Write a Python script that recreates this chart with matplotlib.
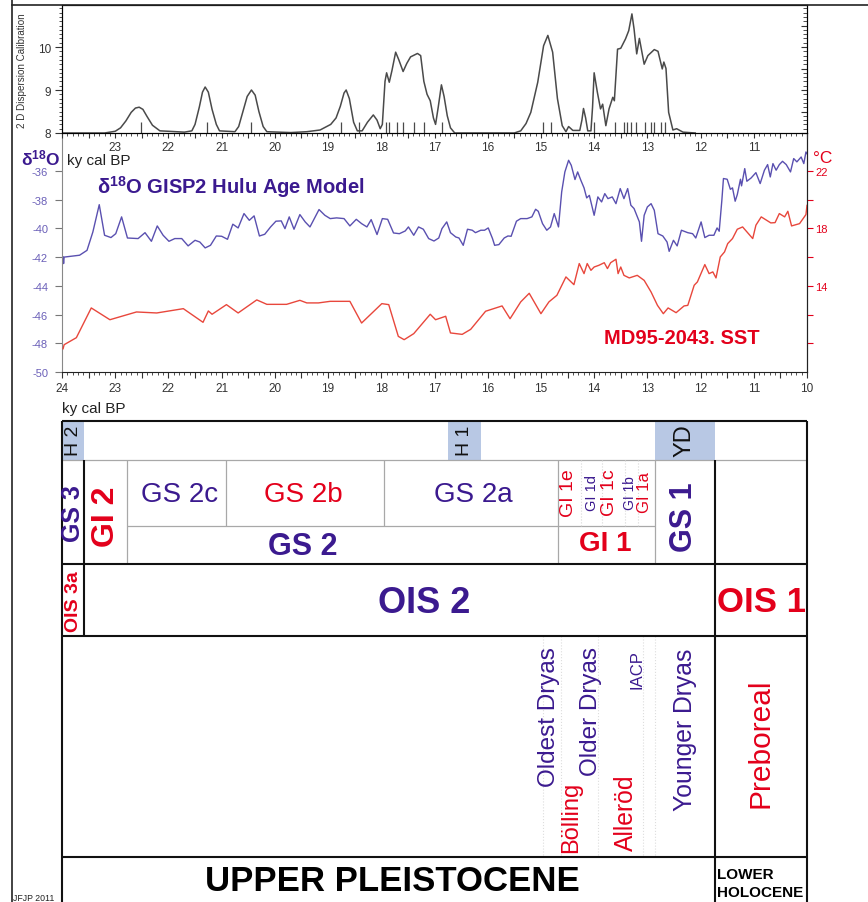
import numpy as np
import matplotlib.pyplot as plt
from matplotlib.lines import Line2D
from matplotlib.patches import Rectangle
from matplotlib.ticker import MultipleLocator, FixedLocator, FuncFormatter

plt.rcParams['font.family'] = ['Liberation Sans', 'DejaVu Sans']
plt.rcParams['mathtext.fontset'] = 'custom'
plt.rcParams['mathtext.rm'] = 'Liberation Sans'
plt.rcParams['mathtext.bf'] = 'Liberation Sans:bold'
plt.rcParams['mathtext.default'] = 'bf'
plt.rcParams['axes.unicode_minus'] = False

# --- calibration curve (top panel) ---
cal_age = [24.0, 23.2, 23.0, 22.9, 22.8, 22.7, 22.62, 22.55, 22.48, 22.4, 22.3, 22.16, 22.0,
           21.7, 21.56, 21.5, 21.42, 21.36, 21.31, 21.25, 21.18, 21.1, 21.04, 20.75, 20.68,
           20.6, 20.52, 20.44, 20.37, 20.3, 20.22, 20.15, 19.7, 19.4, 19.15, 18.95, 18.85,
           18.77, 18.7, 18.66, 18.6, 18.52, 18.45, 18.36, 18.26, 18.15, 18.08, 18.02, 17.98,
           17.93, 17.9, 17.85, 17.8, 17.73, 17.67, 17.59, 17.52, 17.45, 17.32, 17.26, 17.2,
           17.14, 17.08, 17.02, 16.98, 16.93, 16.87, 16.82, 16.76, 16.7, 16.62, 15.5, 15.38,
           15.28, 15.19, 15.06, 14.95, 14.87, 14.78, 14.69, 14.6, 14.53, 14.48, 14.4, 14.27,
           14.23, 14.2, 14.16, 14.12, 14.06, 14.03, 14.0, 13.94, 13.88, 13.84, 13.78, 13.72,
           13.65, 13.62, 13.56, 13.5, 13.41, 13.35, 13.29, 13.25, 13.2, 13.15, 13.06, 12.99,
           12.87, 12.8, 12.72, 12.69, 12.65, 12.6, 12.52, 12.45, 12.33, 12.1]
cal_val = [8.0, 8.0, 8.04, 8.12, 8.28, 8.48, 8.58, 8.6, 8.55, 8.38, 8.18, 8.05, 8.04,
           8.02, 8.05, 8.2, 8.6, 8.95, 9.07, 8.95, 8.55, 8.2, 8.05, 8.03, 8.15,
           8.5, 8.85, 9.0, 8.88, 8.5, 8.15, 8.03, 8.01, 8.03, 8.07, 8.2, 8.35,
           8.62, 8.93, 9.0, 8.8, 8.25, 8.05, 8.05, 8.25, 8.42, 8.3, 8.1, 8.2,
           9.2, 9.4, 9.18, 9.45, 9.88, 9.7, 9.43, 9.62, 9.77, 9.85, 9.8, 9.2,
           8.9, 8.75, 8.35, 8.2, 8.6, 9.12, 8.85, 8.4, 8.12, 8.0, 8.0, 8.05,
           8.22, 8.48, 9.18, 10.03, 10.27, 9.88, 8.8, 8.17, 8.03, 8.15, 8.06, 8.06,
           8.3, 8.57, 8.35, 8.05, 8.05, 8.6, 9.4, 8.95, 8.56, 8.67, 8.17, 8.56,
           8.83, 8.75, 9.95, 9.97, 10.19, 10.38, 10.77, 10.42, 9.84, 10.2, 9.6, 9.8,
           9.94, 9.9, 9.49, 9.65, 9.5, 8.48, 8.07, 8.1, 8.02, 8.0]
date_age = [22.51, 21.27, 20.45, 18.75, 18.41, 17.92, 17.85, 17.70, 17.59, 17.39, 17.19,
            16.85, 14.97, 14.82, 14.01, 13.61, 13.44, 13.38, 13.30, 13.22, 13.05, 12.94,
            12.88, 12.75, 12.67]

# --- d18O GISP2 (Hulu age model) ---
d18_age = [23.98, 23.97, 23.96, 23.67, 23.53, 23.42, 23.30, 23.20, 23.08, 22.99, 22.88, 22.77,
           22.57, 22.44, 22.32, 22.21, 22.10, 21.99, 21.88, 21.75, 21.63, 21.50, 21.41, 21.31,
           21.21, 21.10, 21.00, 20.89, 20.79, 20.69, 20.58, 20.48, 20.39, 20.29, 20.19, 20.08,
           19.98, 19.88, 19.81, 19.73, 19.64, 19.53, 19.43, 19.34, 19.17, 19.06, 18.96, 18.84,
           18.70, 18.59, 18.47, 18.37, 18.27, 18.19, 18.08, 17.98, 17.88, 17.77, 17.66, 17.55,
           17.49, 17.39, 17.30, 17.21, 17.11, 17.01, 16.92, 16.86, 16.77, 16.70, 16.60, 16.54,
           16.46, 16.38, 16.29, 16.23, 16.13, 16.06, 15.99, 15.91, 15.87, 15.79, 15.69, 15.62,
           15.56, 15.46, 15.38, 15.26, 15.17, 15.10, 15.05, 14.97, 14.89, 14.82, 14.75, 14.67,
           14.61, 14.55, 14.48, 14.43, 14.36, 14.31, 14.25, 14.19, 14.14, 14.09, 14.00, 13.93,
           13.86, 13.80, 13.74, 13.66, 13.59, 13.51, 13.44, 13.37, 13.31, 13.25, 13.15, 13.11,
           13.06, 13.00, 12.93, 12.87, 12.80, 12.71, 12.63, 12.59, 12.51, 12.44, 12.36, 12.24,
           12.15, 12.09, 11.99, 11.92, 11.84, 11.75, 11.69, 11.65, 11.60, 11.57, 11.50, 11.44,
           11.40, 11.35, 11.31, 11.25, 11.23, 11.17, 11.13, 11.05, 10.96, 10.88, 10.80, 10.74,
           10.69, 10.64, 10.58, 10.52, 10.46, 10.39, 10.31, 10.25, 10.19, 10.11, 10.06, 10.02,
           10.00]
d18_val = [-41.99, -42.45, -42.0, -41.87, -41.53, -40.25, -38.35, -40.48, -40.64, -40.37, -39.2, -40.67,
           -40.71, -40.30, -40.9, -39.83, -40.48, -40.9, -40.71, -40.71, -41.22, -40.83, -40.95, -41.36,
           -41.18, -40.53, -40.55, -40.76, -39.71, -39.97, -38.97, -39.44, -39.13, -40.53, -40.41, -39.9,
           -39.5, -39.48, -40.02, -39.2, -40.06, -39.04, -39.55, -39.9, -38.69, -39.09, -39.32, -39.27,
           -39.32, -39.83, -39.37, -39.67, -39.9, -39.39, -40.43, -39.32, -39.37, -40.32, -40.37, -40.18,
           -39.9, -40.48, -39.9, -40.06, -40.71, -40.88, -40.67, -40.02, -39.55, -40.30, -40.6, -40.67,
           -41.18, -40.06, -40.13, -40.3, -40.13, -40.13, -39.97, -40.71, -41.18, -41.13, -40.67, -40.53,
           -40.55, -39.5, -39.32, -39.32, -39.2, -38.67, -38.81, -39.67, -40.13, -39.9, -38.97, -39.9,
           -37.46, -36.07, -35.26, -35.61, -36.6, -36.07, -36.65, -37.18, -37.88, -37.7, -39.09, -37.81,
           -38.16, -37.58, -37.93, -37.81, -38.28, -37.23, -37.93, -37.23, -38.39, -38.62, -39.55, -40.9,
           -39.09, -38.51, -38.28, -38.74, -40.37, -40.53, -40.95, -41.6, -40.83, -41.22, -40.13, -40.3,
           -40.37, -40.67, -39.55, -40.64, -40.48, -40.48, -39.97, -40.2, -38.04, -36.53, -36.58, -37.28,
           -37.18, -38.11, -37.65, -36.58, -37.04, -35.84, -36.72, -36.49, -36.12, -36.88, -35.95, -35.56,
           -36.42, -35.49, -35.95, -35.56, -35.33, -35.56, -36.07, -35.14, -35.37, -35.03, -35.49, -34.68,
           -34.8]

# --- MD95-2043 SST (deg C) ---
sst_age = [23.98, 23.96, 23.73, 23.45, 23.10, 22.60, 22.22, 21.72, 21.35, 21.25, 21.18, 20.91,
           20.69, 20.34, 20.15, 19.78, 19.53, 19.40, 19.18, 18.96, 18.59, 18.37, 17.99, 17.86,
           17.68, 17.57, 17.39, 17.08, 16.98, 16.79, 16.70, 16.48, 16.32, 16.04, 15.73, 15.58,
           15.38, 15.22, 15.00, 14.85, 14.70, 14.53, 14.38, 14.28, 14.19, 14.13, 14.06, 14.00,
           13.91, 13.81, 13.75, 13.69, 13.59, 13.55, 13.50, 13.44, 13.34, 13.19, 13.06, 12.93,
           12.81, 12.70, 12.61, 12.46, 12.31, 12.24, 12.12, 12.06, 11.92, 11.84, 11.77, 11.71,
           11.63, 11.55, 11.49, 11.40, 11.31, 11.21, 11.02, 10.96, 10.86, 10.68, 10.60, 10.52,
           10.42, 10.36, 10.29, 10.14, 10.02, 10.00]
sst_val = [9.62, 9.9, 10.39, 12.46, 11.64, 12.18, 12.11, 12.41, 11.46, 12.25, 12.02, 12.69,
           12.11, 13.02, 12.71, 12.71, 12.99, 12.81, 12.81, 12.92, 12.92, 11.41, 12.76, 12.69,
           10.48, 10.25, 10.67, 12.02, 11.64, 11.88, 10.72, 10.62, 10.97, 12.23, 12.6, 11.71,
           12.88, 13.48, 12.06, 12.88, 13.34, 14.62, 14.08, 15.55, 14.85, 15.55, 15.08, 15.31,
           15.43, 15.61, 15.2, 15.61, 15.85, 14.85, 15.31, 14.73, 14.55, 14.73, 14.38, 13.57,
           12.64, 12.06, 12.46, 12.13, 12.6, 12.64, 14.04, 14.27, 15.48, 14.85, 14.97, 14.55,
           16.01, 16.36, 16.94, 17.29, 17.94, 18.1, 17.29, 18.22, 18.8, 18.38, 18.4, 19.03,
           18.8, 19.19, 18.17, 18.33, 18.96, 19.6]

# --- stratigraphic table (ky cal BP) ---
event_labels = ['H 2', 'H 1', 'YD']
event_start = [24.0, 16.74, 12.86]
event_end = [23.58, 16.13, 11.73]
gs2_labels = ['GS 2c', 'GS 2b', 'GS 2a']
gs2_centre = [21.80, 19.46, 16.27]
gs2_bounds = [22.78, 20.91, 17.94, 14.68]
gi1_labels = ['GI 1e', 'GI 1d', 'GI 1c', 'GI 1b', 'GI 1a']
gi1_centre = [14.48, 14.04, 13.71, 13.32, 13.06]
gi1_bounds = [14.24, 13.85, 13.42, 13.17]
pollen_labels = ['Oldest Dryas', 'Bölling', 'Older Dryas', 'Alleröd', 'IACP', 'Younger Dryas']
pollen_centre = [14.85, 14.44, 14.05, 13.41, 13.20, 12.30]
pollen_bounds = [14.97, 14.63, 13.93, 13.09, 12.86]
gs1_start = 12.86
holocene_start = 11.73
gs3_end = 23.58
gi2_end = 22.78

W, H = 868, 903
PURPLE = '#3b1a8f'
RED = '#e3001b'
BLUE = '#5a50b0'
LRED = '#e8473c'
SHADE = '#b8c8e4'
GREY = '#a8a8a8'

fig = plt.figure(figsize=(W / 100, H / 100), dpi=100)


def fx(px):
    return px / W


def fy(py):
    return 1 - py / H


X0, X1 = 62, 807
AW = (X1 - X0) / W


def int_label(v, p, lo, hi):
    if abs(v - round(v)) < 0.01 and lo <= round(v) <= hi:
        return '%d' % round(v)
    return ''


# middle panel
ax_mid = fig.add_axes([fx(X0), fy(373), AW, (373 - 134) / H])
ax_mid.set_facecolor('none')
ax_mid.plot(d18_age, d18_val, color=BLUE, lw=1.0)
ax_mid.set_xlim(24, 10)
ax_mid.set_ylim(-50, -33.36)
ax_mid.set_yticks(np.arange(-50, -35, 2))
ax_mid.tick_params(axis='y', colors='#777777', labelcolor='#6a5fb8', labelsize=8,
                   length=5, pad=5)
ax_mid.xaxis.set_major_locator(MultipleLocator(0.5))
ax_mid.xaxis.set_minor_locator(MultipleLocator(0.1))
ax_mid.xaxis.set_major_formatter(FuncFormatter(lambda v, p: int_label(v, p, 10, 24)))
ax_mid.tick_params(axis='x', which='major', length=4, labelsize=8.5, pad=3, colors='#333333')
ax_mid.tick_params(axis='x', which='minor', length=2.2, colors='#333333')
ax_mid.spines['top'].set_visible(False)
ax_mid.spines['left'].set_color('#888888')
for s in ['bottom', 'right']:
    ax_mid.spines[s].set_color('#222222')

ax_r = ax_mid.twinx()
ax_r.plot(sst_age, sst_val, color=LRED, lw=1.0)
ax_r.set_ylim(8, 24.64)
ax_r.set_yticks(np.arange(10, 23, 2))
ax_r.set_yticklabels(['' if t not in (14, 18, 22) else '%d' % t for t in np.arange(10, 23, 2)])
ax_r.tick_params(axis='y', colors=RED, labelsize=8, length=4, pad=2)
ax_r.spines['top'].set_visible(False)
ax_r.spines['right'].set_color('#222222')
ax_r.spines['left'].set_visible(False)
ax_r.spines['bottom'].set_visible(False)

# top panel
ax_top = fig.add_axes([fx(X0), fy(134), AW, (134 - 6) / H])
ax_top.set_facecolor('none')
ax_top.plot(cal_age, cal_val, color='#4a4a4a', lw=1.1)
ax_top.vlines(date_age, 8, 8.26, color='#4a4a4a', lw=0.9)
ax_top.set_xlim(24, 10)
ax_top.set_ylim(8, 10.977)
ax_top.xaxis.set_major_locator(MultipleLocator(0.5))
ax_top.xaxis.set_minor_locator(MultipleLocator(0.1))
ax_top.xaxis.set_major_formatter(FuncFormatter(lambda v, p: int_label(v, p, 11, 23)))
ax_top.tick_params(axis='x', which='major', length=3.5, labelsize=8.5, pad=2, colors='#333333')
ax_top.tick_params(axis='x', which='minor', length=2, colors='#333333')
ax_top.yaxis.set_major_locator(FixedLocator([8, 9, 10]))
ax_top.yaxis.set_minor_locator(MultipleLocator(0.1))
ax_top.tick_params(axis='y', which='major', length=5, labelsize=8.5, pad=3, colors='#333333')
ax_top.tick_params(axis='y', which='minor', length=2.5, colors='#333333')
for s in ax_top.spines.values():
    s.set_color('#222222')
ax_tr = ax_top.twinx()
ax_tr.set_ylim(8, 10.977)
ax_tr.yaxis.set_major_locator(MultipleLocator(0.5))
ax_tr.yaxis.set_minor_locator(MultipleLocator(0.1))
ax_tr.tick_params(axis='y', which='both', direction='in', labelright=False, colors='#333333')
ax_tr.tick_params(axis='y', which='major', length=4)
ax_tr.tick_params(axis='y', which='minor', length=3)

# panel texts
fig.text(fx(22), fy(71), '2 D Dispersion Calibration', rotation=90, ha='center', va='center',
         fontsize=7.1, color='#333333')
fig.text(fx(21), fy(165), 'δ$^{18}$O', color=PURPLE, fontsize=12.5, fontweight='bold',
         ha='left', va='baseline')
fig.text(fx(67), fy(165), 'ky cal BP', color='#222222', fontsize=11, ha='left', va='baseline')
fig.text(fx(97), fy(194), 'δ$^{18}$O GISP2 Hulu Age Model', color=PURPLE, fontsize=14.5,
         fontweight='bold', ha='left', va='baseline')
fig.text(fx(604), fy(344), 'MD95-2043. SST', color=RED, fontsize=14.5, fontweight='bold',
         ha='left', va='baseline')
fig.text(fx(813), fy(163), '°C', color=RED, fontsize=12.5, ha='left', va='baseline')
fig.text(fx(62), fy(413), 'ky cal BP', color='#222222', fontsize=11, ha='left', va='baseline')
fig.text(fx(13), fy(901), 'JFJP 2011', color='#222222', fontsize=6.3, ha='left', va='baseline')

# outer frame
fig.add_artist(Line2D([fx(12), fx(12)], [0, 1], color='#222222', lw=1.2))
fig.add_artist(Line2D([fx(12), 1], [fy(6), fy(6)], color='#222222', lw=1.2))

# table
ax_t = fig.add_axes([fx(X0), 0, AW, (H - 422) / H])
ax_t.set_xlim(24, 10)
ax_t.set_ylim(H, 422)
ax_t.axis('off')

for lab, a0, a1 in zip(event_labels, event_start, event_end):
    ax_t.add_patch(Rectangle((a0, 422), a1 - a0, 39, facecolor=SHADE, edgecolor='none'))
    ax_t.text((a0 + a1) / 2, 441, lab, rotation=90, ha='center', va='center',
              fontsize=17 if lab == 'YD' else 14, color='#111111')


def hline(y, a0, a1, c='#111111', lw=1.5, ls='-'):
    ax_t.plot([a0, a1], [y, y], color=c, lw=lw, ls=ls, clip_on=False, solid_capstyle='butt')


def vline(a, y0, y1, c='#111111', lw=1.5, ls='-'):
    ax_t.plot([a, a], [y0, y1], color=c, lw=lw, ls=ls, clip_on=False, solid_capstyle='butt')


# grey inner lines
hline(461, 24, 10, GREY, 0.9)
hline(527, gi2_end, gs1_start, GREY, 0.9)
vline(gi2_end, 461, 565, GREY, 0.9)
for b in gs2_bounds[1:3]:
    vline(b, 461, 527, GREY, 0.9)
vline(gs2_bounds[3], 461, 565, GREY, 0.9)
vline(gs1_start, 461, 565, GREY, 0.9)
for b in gi1_bounds:
    vline(b, 461, 527, '#d8d8d8', 0.8, ':')
for b in pollen_bounds:
    vline(b, 637, 858, '#dddddd', 0.8, ':')

# black frame lines
for y in [422, 565, 637, 858]:
    hline(y, 24, 10)
vline(24, 422, H)
vline(10, 422, H)
vline(gs3_end, 461, 637)
vline(holocene_start, 461, H)

# row 2 texts
ax_t.text(23.79, 514, 'GS 3', rotation=90, ha='center', va='center', fontsize=18,
          fontweight='bold', color=PURPLE)
ax_t.text(23.17, 517, 'GI 2', rotation=90, ha='center', va='center', fontsize=23,
          fontweight='bold', color=RED)
for lab, c, col in zip(gs2_labels, gs2_centre, [PURPLE, RED, PURPLE]):
    ax_t.text(c, 495, lab, ha='center', va='center', fontsize=20, color=col)
ax_t.text(19.48, 547, 'GS 2', ha='center', va='center', fontsize=22, fontweight='bold',
          color=PURPLE)
ax_t.text(13.80, 544, 'GI 1', ha='center', va='center', fontsize=20, fontweight='bold',
          color=RED)
gi1_sizes = [14, 10.5, 14, 10, 12]
gi1_cols = [RED, PURPLE, RED, PURPLE, RED]
for lab, c, sz, col in zip(gi1_labels, gi1_centre, gi1_sizes, gi1_cols):
    ax_t.text(c, 493, lab, rotation=90, ha='center', va='center', fontsize=sz, color=col)
ax_t.text(12.31, 517, 'GS 1', rotation=90, ha='center', va='center', fontsize=22,
          fontweight='bold', color=PURPLE)

# row 3 texts
ax_t.text(23.79, 602, 'OIS 3a', rotation=90, ha='center', va='center', fontsize=14,
          fontweight='bold', color=RED)
ax_t.text(17.2, 604, 'OIS 2', ha='center', va='center', fontsize=26, fontweight='bold',
          color=PURPLE)
ax_t.text(10.86, 603, 'OIS 1', ha='center', va='center', fontsize=25, fontweight='bold',
          color=RED)

# row 4 texts
pollen_y = [717, 817, 712, 813, 670, 730]
pollen_sz = [17.5, 17, 17.5, 17.8, 12, 17.8]
pollen_col = [PURPLE, RED, PURPLE, RED, PURPLE, PURPLE]
for lab, c, y, sz, col in zip(pollen_labels, pollen_centre, pollen_y, pollen_sz, pollen_col):
    ax_t.text(c, y, lab, rotation=90, ha='center', va='center', fontsize=sz, color=col)
ax_t.text(10.87, 743, 'Preboreal', rotation=90, ha='center', va='center', fontsize=21.5,
          color=RED)

# row 5 texts
ax_t.text(17.79, 882, 'UPPER PLEISTOCENE', ha='center', va='center', fontsize=25,
          fontweight='bold', color='#000000')
ax_t.text(11.69, 875, 'LOWER', ha='left', va='center', fontsize=11, fontweight='bold',
          color='#000000')
ax_t.text(11.69, 893, 'HOLOCENE', ha='left', va='center', fontsize=11, fontweight='bold',
          color='#000000')

fig.savefig('out.png', dpi=100)
